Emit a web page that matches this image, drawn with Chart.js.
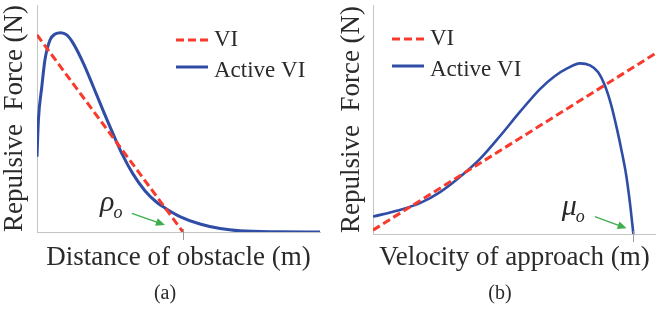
<!DOCTYPE html>
<html>
<head>
<meta charset="utf-8">
<script src="https://cdn.jsdelivr.net/npm/chart.js@4.4.1/dist/chart.umd.min.js"></script>
<style>
  html, body { margin: 0; padding: 0; background: #fff; }
  #wrap { position: relative; width: 656px; height: 321px; }
  .panel { position: absolute; top: 0; width: 328px; height: 321px; }
</style>
</head>
<body>
<div id="wrap">
  <div class="panel" style="left:0"><canvas id="chart-a" width="328" height="321"></canvas></div>
  <div class="panel" style="left:328px"><canvas id="chart-b" width="328" height="321"></canvas></div>
</div>
<script>
// ─── Datos (unidades arbitrarias 0..100) ───
// (a) fuerza vs distancia al obstáculo
const distVI = [0, 51.6];
const forceVI_a = [86.8, 0];
const distActive = [0, 0.5, 1.7, 2.8, 4.6, 6.4, 8.4, 10.5, 12.8, 16.4, 19.9, 23.3, 26.9, 30.4, 33.9, 38.2, 42.4, 45.2, 50.5, 57.6, 64.7, 71.7, 85.9, 100];
const forceActive_a = [33.2, 49.3, 64.0, 75.8, 84.6, 87.2, 87.8, 86.8, 83.1, 74.3, 64.0, 53.7, 43.2, 33.5, 25.6, 18.1, 13.0, 10.6, 6.8, 3.5, 1.5, 0.5, 0.1, 0];
const rhoO = 51.6;

// (b) fuerza vs velocidad de aproximación
const velVI = [0, 100];
const forceVI_b = [1.7, 79.0];
const velActive = [0, 8.8, 16.6, 23.7, 30.7, 37.8, 44.9, 51.9, 59.0, 64.3, 68.6, 73.1, 76.7, 79.5, 82.0, 84.1, 86.2, 88.0, 89.4, 90.8, 92.0];
const forceActive_b = [7.6, 10.3, 13.5, 18.3, 24.9, 32.8, 42.8, 53.3, 63.3, 69.0, 72.3, 74.5, 73.6, 70.7, 64.6, 56.6, 45.9, 35.4, 26.2, 13.5, 0];
const muO = 92.0;

const labelsLegend = ['VI', 'Active VI'];

const RED = '#f83a2c';
const BLUE = '#2f4da6';
const GREEN = '#3fae4f';
const TXT = '#2a2a2a';
const SERIF = '"Liberation Serif", "Times New Roman", serif';

const pts = (xs, ys) => xs.map((x, i) => ({ x, y: ys[i] }));

// plugin: tick, flecha, símbolo, leyenda y pie de figura
const extras = {
  id: 'extras',
  afterDatasetsDraw(chart, args, o) {
    const { ctx, chartArea: ca, scales: { x, y } } = chart;
    ctx.save();
    // marca en el eje
    const tx = Math.round(x.getPixelForValue(o.tick)) + 0.5;
    ctx.strokeStyle = '#9a9a9a'; ctx.lineWidth = 1; ctx.setLineDash([]);
    ctx.beginPath(); ctx.moveTo(tx, ca.bottom - 3); ctx.lineTo(tx, ca.bottom + 8); ctx.stroke();

    // flecha verde
    const x1 = x.getPixelForValue(o.arrow[0]), y1 = y.getPixelForValue(o.arrow[1]);
    const x2 = x.getPixelForValue(o.arrow[2]), y2 = y.getPixelForValue(o.arrow[3]);
    const ang = Math.atan2(y2 - y1, x2 - x1);
    ctx.strokeStyle = GREEN; ctx.fillStyle = GREEN; ctx.lineWidth = 1.5;
    ctx.beginPath(); ctx.moveTo(x1, y1); ctx.lineTo(x2 - 7 * Math.cos(ang), y2 - 7 * Math.sin(ang)); ctx.stroke();
    ctx.beginPath();
    ctx.moveTo(x2, y2);
    ctx.lineTo(x2 - 9 * Math.cos(ang) + 4 * Math.sin(ang), y2 - 9 * Math.sin(ang) - 4 * Math.cos(ang));
    ctx.lineTo(x2 - 9 * Math.cos(ang) - 4 * Math.sin(ang), y2 - 9 * Math.sin(ang) + 4 * Math.cos(ang));
    ctx.closePath(); ctx.fill();

    // símbolo griego con subíndice
    const sx = x.getPixelForValue(o.sym[1]), sy = y.getPixelForValue(o.sym[2]);
    ctx.fillStyle = TXT; ctx.textAlign = 'left'; ctx.textBaseline = 'alphabetic';
    ctx.font = 'italic 30px ' + SERIF;
    ctx.fillText(o.sym[0], sx, sy);
    const w = ctx.measureText(o.sym[0]).width;
    ctx.font = 'italic 18px ' + SERIF;
    ctx.fillText('o', sx + w - 1, sy + 7);

    // leyenda
    const lx = ca.left + o.legendX;
    chart.data.datasets.forEach((ds, i) => {
      const ly = o.legendY[i];
      ctx.strokeStyle = ds.borderColor; ctx.lineWidth = 3;
      ctx.setLineDash(ds.borderDash || []);
      ctx.beginPath(); ctx.moveTo(lx, ly); ctx.lineTo(lx + 32, ly); ctx.stroke();
      ctx.setLineDash([]);
      ctx.fillStyle = TXT; ctx.font = '23px ' + SERIF; ctx.textBaseline = 'middle';
      ctx.fillText(ds.label, lx + 38, ly + (i ? 4 : 0));
    });

    // (a) / (b)
    ctx.font = '20px ' + SERIF; ctx.textAlign = 'center'; ctx.textBaseline = 'middle';
    ctx.fillText(o.caption, o.captionX, 294);
    ctx.restore();
  }
};

function makeChart(id, cfg) {
  return new Chart(document.getElementById(id), {
    type: 'scatter',
    data: {
      datasets: [
        { label: labelsLegend[0], data: cfg.vi, showLine: true, borderColor: RED, borderWidth: 3, borderDash: [8, 4], pointRadius: 0 },
        { label: labelsLegend[1], data: cfg.active, showLine: true, borderColor: BLUE, borderWidth: cfg.blueW, cubicInterpolationMode: 'monotone', pointRadius: 0 }
      ]
    },
    options: {
      responsive: false,
      animation: false,
      events: [],
      layout: { padding: { top: 5, right: cfg.padRight, left: 0, bottom: 0 } },
      plugins: { legend: { display: false }, tooltip: { enabled: false }, extras: cfg.extras },
      scales: {
        x: {
          type: 'linear', min: 0, max: 100,
          grid: { display: false },
          border: { display: true, color: '#c4c4c4', width: 1 },
          ticks: { display: false },
          title: { display: true, text: cfg.xTitle, color: TXT, font: { family: SERIF, size: 27, lineHeight: 1 }, padding: { top: 0, bottom: 50 } },
          afterFit: s => { s.height = cfg.xH; }
        },
        y: {
          min: 0, max: 100,
          grid: { display: false },
          border: { display: true, color: '#c4c4c4', width: 1 },
          ticks: { display: false },
          title: { display: true, text: 'Repulsive  Force (N)', color: TXT, font: { family: SERIF, size: 27, lineHeight: 1 }, padding: { top: cfg.yPad, bottom: 0 } },
          afterFit: s => { s.width = cfg.yW; }
        }
      }
    },
    plugins: [extras]
  });
}

makeChart('chart-a', {
  vi: pts(distVI, forceVI_a),
  active: pts(distActive, forceActive_a),
  blueW: 3,
  padRight: 8, xH: 89, yW: 37, yPad: 1.5,
  xTitle: 'Distance of obstacle (m)',
  extras: { tick: rhoO, arrow: [33.5, 8.2, 45.2, 3.1], sym: ['ρ', 22.3, 9.3], legendX: 139, legendY: [40, 67], caption: '(a)', captionX: 165 }
});

makeChart('chart-b', {
  vi: pts(velVI, forceVI_b),
  active: pts(velActive, forceActive_b),
  blueW: 2.6,
  padRight: 0, xH: 87, yW: 45, yPad: 10.5,
  xTitle: 'Velocity of approach (m)',
  extras: { tick: muO, arrow: [78.4, 7.6, 89.6, 2.5], sym: ['μ', 66.7, 8.3], legendX: 19, legendY: [39, 66], caption: '(b)', captionX: 172 }
});
</script>
</body>
</html>
